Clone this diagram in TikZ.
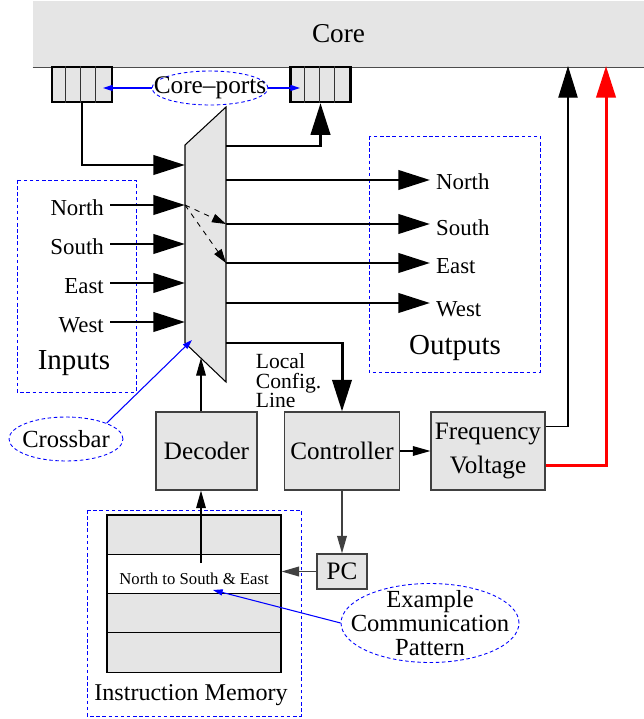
\documentclass[tikz,border=0pt]{standalone}
\usepackage{fontspec}
\setmainfont{Liberation Serif}
\usetikzlibrary{arrows.meta,shapes.geometric}

\tikzset{
    box/.style={draw=black!75, fill=black!10, line width=0.7pt, inner sep=0pt},
    port/.style={draw=black, fill=black!10, line width=1.3pt, minimum width=1.2cm, minimum height=0.7cm},
    callout/.style={ellipse, draw=blue, dash pattern=on 2pt off 1.5pt, line width=0.5pt, inner sep=0pt},
    dashbox/.style={draw=blue, dash pattern=on 2pt off 1.5pt, line width=0.5pt},
    bigarrow/.style={line width=1.7pt, -{Triangle[length=18pt,width=11pt]}},
    midarrow/.style={line width=0.6pt, -{Triangle[length=10pt,width=5.5pt]}},
    bluearrow/.style={blue, line width=0.6pt, -{Triangle[length=5.5pt,width=3.5pt]}},
}

\begin{document}
\begin{tikzpicture}[x=0.02cm, y=-0.02cm, every node/.style={font=\fontsize{13}{13}\selectfont}]
        \useasboundingbox (0,0) rectangle (644,719);

        % core and its ports
        \node[fill=black!10, inner sep=0pt, minimum width=12.22cm, minimum height=1.32cm,
              font=\fontsize{15.5}{16}\selectfont] (core) at (338.5,34) {Core};
        \draw[black!70, line width=0.8pt] (core.south west) -- (core.south east);
        \node[port] (lport) at (82,84.5) {};
        \node[port] (rport) at (320.5,84.5) {};
        \foreach \p in {lport,rport}
            \foreach \i in {1,2,3}
                \draw[black!80, line width=0.6pt] ([xshift=\i*0.3cm]\p.north west) -- ([xshift=\i*0.3cm]\p.south west);

        % crossbar
        \coordinate (xa) at (185,145);
        \coordinate (xb) at (226,107);
        \coordinate (xc) at (226,382);
        \coordinate (xd) at (185,343);
        \draw[fill=black!10, line width=0.6pt] (xa) -- (xb) -- (xc) -- (xd) -- cycle;

        % inputs
        \draw[dashbox] (17,180) rectangle (136,392);
        \node[font=\fontsize{16.5}{17}\selectfont] (inputs) at (74,363) {Inputs};
        \foreach \d/\y in {North/205,South/244,East/283,West/322} {
            \node[anchor=east] (in\d) at (110,\y+3) {\d};
            \coordinate (x\d) at (185,\y);
            \draw[bigarrow] (in\d.east |- x\d) -- (x\d);
        }

        % outputs
        \draw[dashbox] (369,136) rectangle (540,372);
        \node[font=\fontsize{16.5}{17}\selectfont] (outputs) at (455,348) {Outputs};
        \foreach \d/\y/\s in {North/180/2,South/224/4,East/263/3,West/303/6} {
            \coordinate (o\d) at (226,\y);
            \node[anchor=west] (out\d) at (430,\y+\s) {\d};
            \draw[bigarrow] (o\d) -- (o\d -| out\d.west);
        }
        \draw[line width=0.5pt, dashed, -{Triangle[length=8pt,width=5pt]}] (xNorth) -- (oSouth);
        \draw[line width=0.5pt, dashed, -{Triangle[length=8pt,width=5pt]}] (xNorth) -- (oEast);

        % links with the core ports
        \coordinate (xTop) at (185,165);
        \coordinate (oTop) at (226,146);
        \draw[bigarrow] (lport.south) |- (xTop);
        \draw[bigarrow] (oTop) -| (rport.south);

        % control blocks
        \begin{scope}[every node/.append style={box, minimum height=1.56cm, font=\fontsize{14.3}{19.3}\selectfont}]
            \node[minimum width=2.02cm] (dec) at (206.5,451) {Decoder};
            \node[minimum width=2.3cm] (ctrl) at (342,451) {Controller};
            \node[minimum width=2.28cm, align=center] (freq) at (488,451) {Frequency\\Voltage};
            \node[minimum width=1cm, minimum height=0.7cm] (pc) at (342,571.5) {PC};
        \end{scope}

        \coordinate (oLoc) at (226,343);
        \draw[bigarrow] (oLoc) -| (ctrl.north);
        \node[anchor=north west, align=left, inner sep=2pt, font=\fontsize{12.3}{11}\selectfont] (loc) at (252,350) {Local\\Config.\\Line};

        \coordinate (xBot) at (201,358);
        \draw[midarrow] (xBot |- dec.north) -- (xBot);
        \draw[midarrow] (ctrl) -- (freq);
        \draw[midarrow, black!75, line width=0.9pt] (ctrl) -- (pc);

        % frequency and voltage back to the core
        \coordinate (cBlack) at (568,66);
        \coordinate (cRed) at (606,66);
        \draw[line width=0.6pt, -{Triangle[length=18pt,width=11pt]}] ([yshift=14pt]freq.east) -| (cBlack);
        \draw[bigarrow, red] ([yshift=-8.5pt]freq.east) -| (cRed);

        % instruction memory
        \draw[dashbox] (87,510) rectangle (301,716);
        \foreach \i/\y/\c in {1/534.6/black!10,2/573.9/white,3/613.1/black!10,4/652.4/black!10}
            \node[draw, fill=\c, line width=0.6pt, minimum width=3.48cm, minimum height=0.785cm] (row\i) at (194,\y) {};
        \node[font=\fontsize{9.5}{10}\selectfont] (pattern) at ([yshift=-2.5pt]row2.center) {North to South \& East};
        \node[font=\fontsize{13.7}{14}\selectfont] (imem) at (191,695) {Instruction Memory};
        \coordinate (mPt) at (201,563);
        \draw[midarrow] (mPt) -- (mPt |- dec.south);
        \draw[midarrow, black!75, line width=0.9pt] (pc) -- (pc -| row2.east);

        % callouts
        \node[callout, minimum width=2.32cm, minimum height=0.68cm] (cports) at (210,88) {};
        \node[font=\fontsize{14.4}{15}\selectfont] (cportsText) at (cports) {Core--ports};
        \coordinate (lpIn) at (103,88);
        \coordinate (rpIn) at (300,88);
        \draw[bluearrow] (cports) -- (lpIn);
        \draw[bluearrow] (cports) -- (rpIn);

        \node[callout, minimum width=2.28cm, minimum height=0.88cm] (cbar) at (66,439) {};
        \node[font=\fontsize{14}{15}\selectfont] (cbarText) at (cbar) {Crossbar};
        \coordinate (xCb) at (192,340);
        \draw[bluearrow] (cbar.north east) -- (xCb);

        \node[callout, minimum width=3.56cm, minimum height=1.58cm] (ex) at (430,623) {};
        \node[align=center, font=\fontsize{14}{13.6}\selectfont] (exText) at (ex) {Example\\Communication\\Pattern};
        \coordinate (mCb) at (213,590);
        \draw[bluearrow] (ex.west) -- (mCb);
\end{tikzpicture}
\end{document}
